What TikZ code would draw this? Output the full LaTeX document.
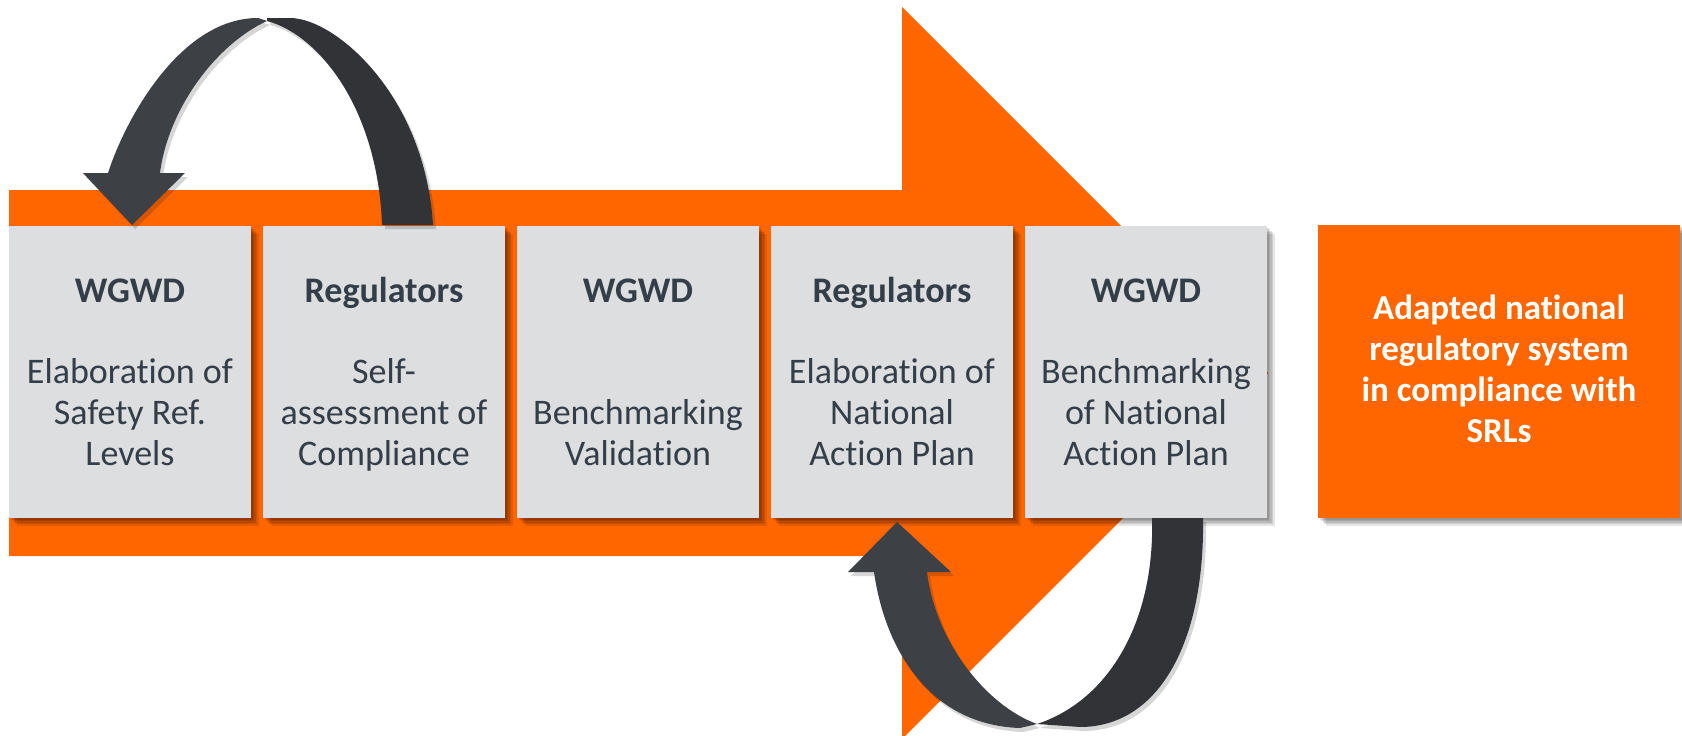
\documentclass[tikz,border=0pt]{standalone}
\usepackage{fontspec}
\setmainfont{Carlito}[Ligatures={TeX,NoCommon}]
\usetikzlibrary{calc}
\definecolor{orng}{RGB}{255,102,0}
\definecolor{boxgray}{RGB}{221,222,224}
\definecolor{slate}{RGB}{52,62,72}
\definecolor{arrlight}{RGB}{61,65,69}
\definecolor{arrdark}{RGB}{50,51,55}
\begin{document}
\begin{tikzpicture}[x=1pt,y=-1pt,
  stepbox/.style={fill=boxgray, draw=none, minimum width=242pt, minimum height=292pt, inner sep=0pt},
  endbox/.style={fill=orng, draw=none, minimum width=362pt, minimum height=293pt, inner sep=0pt},
  title/.style={font=\fontsize{36}{41}\selectfont\bfseries, text=slate, inner sep=0pt},
  body/.style={font=\fontsize{36}{41}\selectfont, text=slate, align=center, inner sep=0pt},
  endtext/.style={font=\fontsize{35}{41}\selectfont\bfseries, text=white, align=center, inner sep=0pt},
  shade/.style={fill=black, opacity=0.1},
  ashade/.style={fill=black, opacity=0.16}]
\useasboundingbox (0,0) rectangle (1682,736);
% big orange arrow
\fill[orng] (9,190) -- (902,190) -- (902,7) -- (1268,373) -- (902,739) -- (902,556) -- (9,556) -- cycle;
% box shadows
\foreach \bx in {9,263,517,771,1025}{
  \foreach \k in {1,...,5}{
    \fill[shade] (\bx+\k*1.6, 226+\k*1.6) rectangle ++(242,292);
  }
}
\foreach \k in {1,...,5}{
  \fill[shade] (1318+\k*1.6, 225+\k*1.6) rectangle ++(362,293);
}
% boxes
\node[stepbox] (b1) at (130,372) {};
\node[stepbox] (b2) at (384,372) {};
\node[stepbox] (b3) at (638,372) {};
\node[stepbox] (b4) at (892,372) {};
\node[stepbox] (b5) at (1146,372) {};
\node[endbox] (b6) at (1499,371.5) {};
% texts
\node[title, anchor=base] (t1) at (130,302) {WGWD};
\node[title, anchor=base] (t2) at (384,302) {Regulators};
\node[title, anchor=base] (t3) at (638,302) {WGWD};
\node[title, anchor=base] (t4) at (892,302) {Regulators};
\node[title, anchor=base] (t5) at (1146,302) {WGWD};
\node[body, anchor=base] (d1) at (130,465) {Elaboration of\\Safety Ref.\\Levels};
\node[body, anchor=base] (d2) at (384,465) {Self-\\assessment of\\Compliance};
\node[body, anchor=base] (d3) at (638,465) {Benchmarking\\Validation};
\node[body, anchor=base] (d4) at (892,465) {Elaboration of\\National\\Action Plan};
\node[body, anchor=base] (d5) at (1146,465) {Benchmarking\\of National\\Action Plan};
\node[endtext, anchor=base] (d6) at (1499,442) {Adapted national\\regulatory system\\in compliance with\\SRLs};
% top curved arrow: shadow
\begin{scope}[shift={(3,4)}]
\fill[ashade] (108,173) .. controls (125,120) and (180,18) .. (258,18) -- (267,21) .. controls (215,45) and (168,110) .. (160,173) -- cycle;
\fill[ashade] (83,173) -- (185,173) -- (132,225) -- cycle;
\fill[ashade] (267,21) -- (267,18) -- (290,18) .. controls (335,18) and (425,95) .. (433,225) -- (382,225) .. controls (378,110) and (320,35) .. (267,21) -- cycle;
\end{scope}
% top curved arrow
\fill[arrdark] (267,21) -- (267,18) -- (290,18) .. controls (335,18) and (425,95) .. (433,225) -- (382,225) .. controls (378,110) and (320,35) .. (267,21) -- cycle;
\fill[arrlight] (108,173) .. controls (125,120) and (180,18) .. (258,18) -- (267,21) .. controls (215,45) and (168,110) .. (160,173) -- cycle;
\fill[arrlight] (83,173) -- (185,173) -- (132,225) -- cycle;
% bottom curved arrow: shadow
\begin{scope}[shift={(3,4)}]
\fill[ashade] (848,572) -- (951,572) -- (897,522) -- cycle;
\fill[ashade] (874,572) .. controls (885,650) and (930,725) .. (1020,728) -- (1037,724) .. controls (985,705) and (935,640) .. (927,572) -- cycle;
\fill[ashade] (1037,724) -- (1080,727) .. controls (1160,727) and (1205,640) .. (1203,518) -- (1152,518) .. controls (1155,620) and (1110,700) .. (1037,724) -- cycle;
\end{scope}
% bottom curved arrow
\fill[arrdark] (1037,724) -- (1080,727) .. controls (1160,727) and (1205,640) .. (1203,518) -- (1152,518) .. controls (1155,620) and (1110,700) .. (1037,724) -- cycle;
\fill[arrlight] (874,572) .. controls (885,650) and (930,725) .. (1020,728) -- (1037,724) .. controls (985,705) and (935,640) .. (927,572) -- cycle;
\fill[arrlight] (848,572) -- (951,572) -- (897,522) -- cycle;
\end{tikzpicture}
\end{document}
